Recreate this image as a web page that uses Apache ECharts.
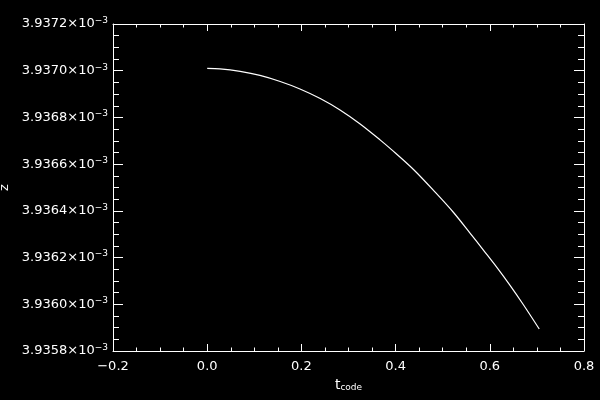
<!DOCTYPE html>
<html>
<head>
<meta charset="utf-8">
<script src="https://cdn.jsdelivr.net/npm/echarts@6/dist/echarts.min.js"></script>
<style>
html,body{margin:0;padding:0;background:#000;}
#c{width:600px;height:400px;}
</style>
</head>
<body>
<div id="c"></div>
<script>
// time in code units
var tCode = [0.000, 0.027, 0.070, 0.112, 0.155, 0.197, 0.240, 0.282, 0.324, 0.367,
             0.392, 0.438, 0.484, 0.523, 0.558, 0.586, 0.615, 0.643, 0.671, 0.705];
// z in units of 1e-3
var zVals = [3.937010, 3.937008, 3.936997, 3.936980, 3.936954, 3.936922, 3.936881, 3.936832,
             3.936773, 3.936704, 3.936661, 3.936577, 3.936480, 3.936393, 3.936305, 3.936233,
             3.936158, 3.936081, 3.935999, 3.935894];
var xTicks = {min: -0.2, max: 0.8, interval: 0.2};
var yTicks = {min: 3.9358, max: 3.9372, interval: 0.0002};

var FONT = 'DejaVu Sans';
var data = tCode.map(function (t, i) { return [t, zVals[i]]; });

function xFmt(v) {
  var s = (Math.round(v * 10) / 10).toFixed(1);
  return s.replace('-', '\u2212');
}
function yFmt(v) {
  return '{b|' + v.toFixed(4) + '\u00d710}{s|\u22123}';
}

var common = {
  axisLine: {show: true, onZero: false, lineStyle: {color: '#fff', width: 1}},
  splitLine: {show: false},
  minorSplitLine: {show: false}
};

var option = {
  backgroundColor: '#000',
  animation: false,
  grid: {left: 113, right: 16, top: 24, bottom: 49, outerBoundsMode: 'none', containLabel: false},
  xAxis: [
    Object.assign({}, common, {
      type: 'value', position: 'bottom',
      min: xTicks.min, max: xTicks.max, interval: xTicks.interval,
      axisTick: {show: true, inside: true, length: 7, lineStyle: {color: '#fff'}},
      minorTick: {show: true, splitNumber: 4, length: 3.5, lineStyle: {color: '#fff'}},
      axisLabel: {show: true, color: '#fff', fontFamily: FONT, fontSize: 13, margin: 9, formatter: xFmt},
      name: '{t|t}{s|code}',
      nameLocation: 'middle', nameGap: 24,
      nameTextStyle: {
        color: '#fff', fontFamily: FONT,
        rich: {
          t: {fontSize: 14, color: '#fff', fontFamily: FONT, lineHeight: 16, verticalAlign: 'bottom'},
          s: {fontSize: 9, color: '#fff', fontFamily: FONT, lineHeight: 16, verticalAlign: 'bottom', padding: [4, 0, 0, 0]}
        }
      }
    }),
    Object.assign({}, common, {
      type: 'value', position: 'top',
      min: xTicks.min, max: xTicks.max, interval: xTicks.interval,
      axisTick: {show: true, inside: true, length: 7, lineStyle: {color: '#fff'}},
      minorTick: {show: true, splitNumber: 4, length: 3.5, lineStyle: {color: '#fff'}},
      axisLabel: {show: false}
    })
  ],
  yAxis: [
    Object.assign({}, common, {
      type: 'value', position: 'left',
      min: yTicks.min, max: yTicks.max, interval: yTicks.interval,
      axisTick: {show: true, inside: true, length: 10, lineStyle: {color: '#fff'}},
      minorTick: {show: true, splitNumber: 4, length: 6, lineStyle: {color: '#fff'}},
      axisLabel: {
        show: true, color: '#fff', fontFamily: FONT, fontSize: 13, margin: 5, formatter: yFmt,
        rich: {
          b: {fontSize: 13, color: '#fff', fontFamily: FONT, lineHeight: 16},
          s: {fontSize: 9, color: '#fff', fontFamily: FONT, lineHeight: 16, verticalAlign: 'top', padding: [0, 0, 8, 0]}
        }
      },
      name: 'z', nameLocation: 'middle', nameGap: 100, nameRotate: 90,
      nameTextStyle: {color: '#fff', fontFamily: FONT, fontSize: 13}
    }),
    Object.assign({}, common, {
      type: 'value', position: 'right',
      min: yTicks.min, max: yTicks.max, interval: yTicks.interval,
      axisTick: {show: true, inside: true, length: 10, lineStyle: {color: '#fff'}},
      minorTick: {show: true, splitNumber: 4, length: 6, lineStyle: {color: '#fff'}},
      axisLabel: {show: false}
    })
  ],
  series: [{
    type: 'line', xAxisIndex: 0, yAxisIndex: 0,
    data: data, showSymbol: false, smooth: 0.3,
    lineStyle: {color: '#fff', width: 1.2}
  }]
};
var chart = echarts.init(document.getElementById('c'), null, {renderer: 'canvas'});
chart.setOption(option);
</script>
</body>
</html>
